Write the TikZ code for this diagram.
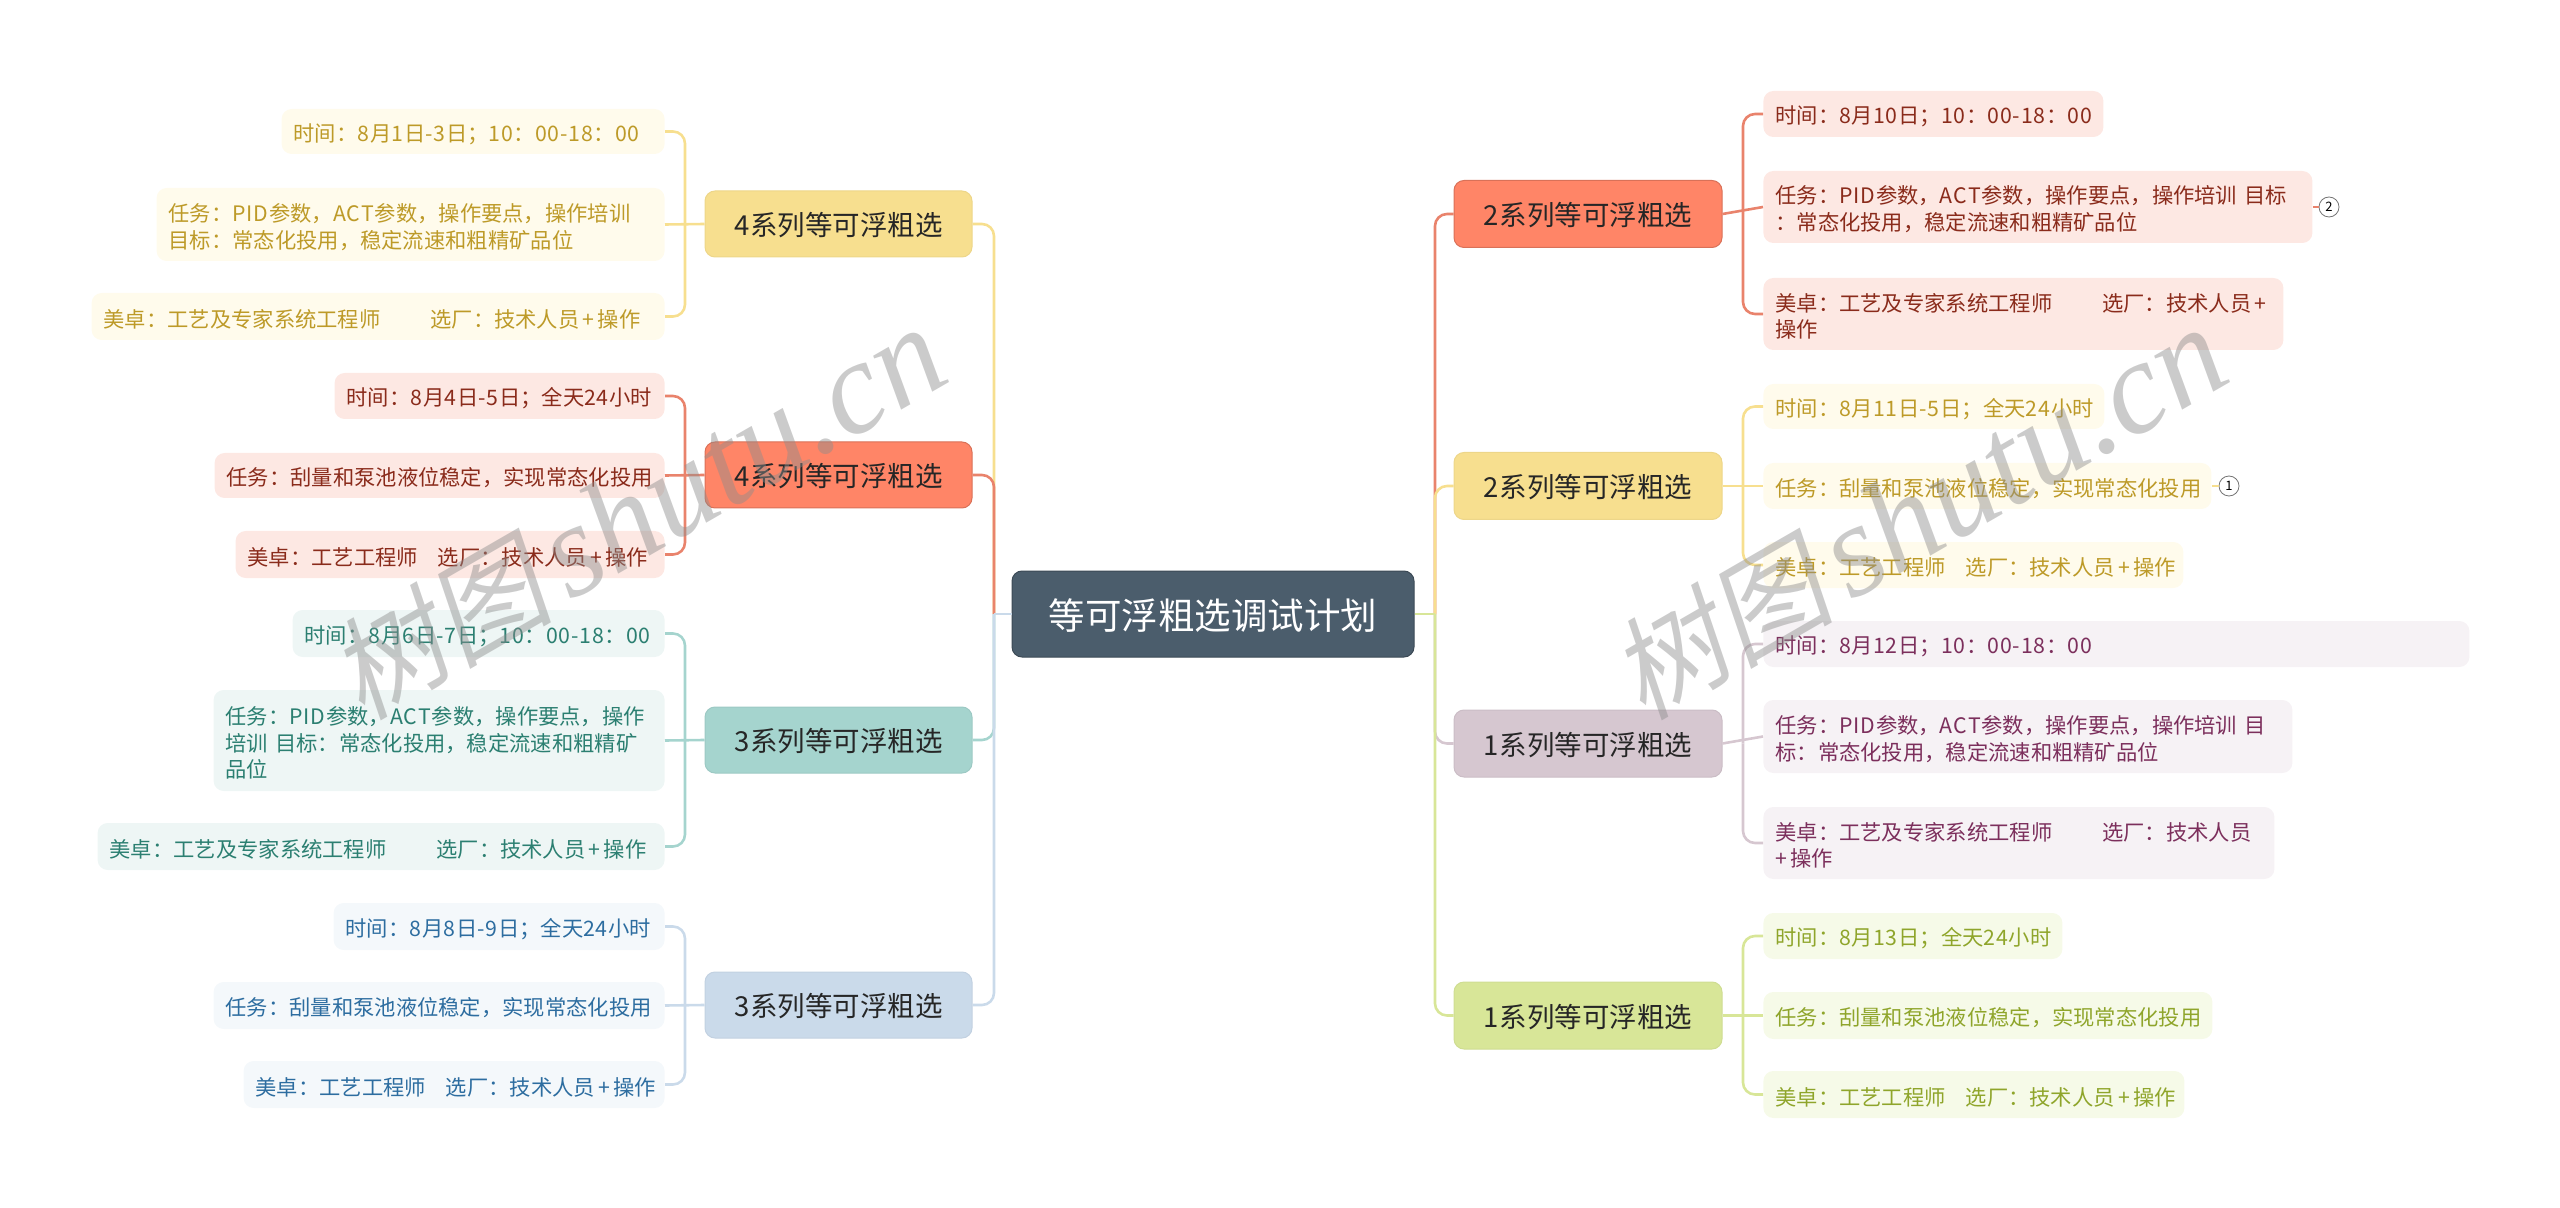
\documentclass[tikz,border=0pt]{standalone}
\usepackage{fontspec}
\setmainfont{Noto Sans CJK SC}
\newfontfamily\markfont[FakeSlant=0.2]{Noto Sans CJK SC}
\newfontfamily\marklatin{Liberation Serif Italic}

% digits and capitals run a little wider than the font gives
\XeTeXinterchartokenstate=1
\newXeTeXintercharclass\latclass
\newXeTeXintercharclass\plusclass
\XeTeXcharclass`\0=\latclass \XeTeXcharclass`\1=\latclass \XeTeXcharclass`\2=\latclass
\XeTeXcharclass`\3=\latclass \XeTeXcharclass`\4=\latclass \XeTeXcharclass`\5=\latclass
\XeTeXcharclass`\6=\latclass \XeTeXcharclass`\7=\latclass \XeTeXcharclass`\8=\latclass
\XeTeXcharclass`\9=\latclass \XeTeXcharclass`\-=\latclass
\XeTeXcharclass`\P=\latclass \XeTeXcharclass`\I=\latclass \XeTeXcharclass`\D=\latclass
\XeTeXcharclass`\A=\latclass \XeTeXcharclass`\C=\latclass \XeTeXcharclass`\T=\latclass
\XeTeXcharclass`\+=\plusclass
\XeTeXinterchartoks\latclass\latclass={\kern0.4pt}
\XeTeXinterchartoks\latclass 0={\kern0.4pt}
\XeTeXinterchartoks 0 \plusclass={\kern1.6pt}
\XeTeXinterchartoks\plusclass 0={\kern1.6pt}

\definecolor{yelNode}{HTML}{F7DF8F}
\definecolor{yelLeaf}{HTML}{FFFBEC}
\definecolor{yelText}{HTML}{BD9A28}
\definecolor{redNode}{HTML}{FF8567}
\definecolor{redLine}{HTML}{E9836C}
\definecolor{redLeaf}{HTML}{FDE8E3}
\definecolor{redText}{HTML}{8A2B1B}
\definecolor{teaNode}{HTML}{A5D4CE}
\definecolor{teaLeaf}{HTML}{EEF6F5}
\definecolor{teaText}{HTML}{2B7F71}
\definecolor{bluNode}{HTML}{CADAEA}
\definecolor{bluLeaf}{HTML}{F4F8FB}
\definecolor{bluText}{HTML}{2D6DA0}
\definecolor{mauNode}{HTML}{D6C7D0}
\definecolor{mauLeaf}{HTML}{F6F2F5}
\definecolor{mauText}{HTML}{7C2F5C}
\definecolor{greNode}{HTML}{D8E698}
\definecolor{greLeaf}{HTML}{F6FAE8}
\definecolor{greText}{HTML}{8FA52B}
\definecolor{rootNode}{HTML}{4B5D6C}

\tikzset{
 leaf/.style={rounded corners=5pt,inner xsep=6pt,inner ysep=0pt,align=left,
   font={\fontsize{10.65}{13.4}\selectfont\hyphenchar\font=-1\relax},execute at begin node={\rule{0pt}{11.4pt}}},
 branch/.style={rounded corners=5pt,inner sep=0pt,text=black!85,line width=0.5pt,
   text height=14.6pt,text depth=3pt,font=\fontsize{13.75}{17}\selectfont},
 yleaf/.style={leaf,fill=yelLeaf,text=yelText},
 rleaf/.style={leaf,fill=redLeaf,text=redText},
 tleaf/.style={leaf,fill=teaLeaf,text=teaText},
 bleaf/.style={leaf,fill=bluLeaf,text=bluText},
 mleaf/.style={leaf,fill=mauLeaf,text=mauText},
 gleaf/.style={leaf,fill=greLeaf,text=greText},
 ybranch/.style={branch,fill=yelNode,draw=yelNode!96!black},
 rbranch/.style={branch,fill=redNode,draw=redNode!85!black},
 tbranch/.style={branch,fill=teaNode,draw=teaNode!95!black},
 bbranch/.style={branch,fill=bluNode,draw=bluNode!96!black},
 mbranch/.style={branch,fill=mauNode,draw=mauNode!95!black},
 gbranch/.style={branch,fill=greNode,draw=greNode!96!black},
 link/.style={line width=1.3pt,rounded corners=6pt},
 yline/.style={link,draw=yelNode},
 rline/.style={link,draw=redLine},
 tline/.style={link,draw=teaNode},
 bline/.style={link,draw=bluNode},
 mline/.style={link,draw=mauNode},
 gline/.style={link,draw=greNode},
 note/.style={circle,draw=black!55,fill=white,line width=0.4pt,inner sep=0pt,
   minimum size=10pt,font=\fontsize{6.5}{7}\selectfont},
 stamp/.style={rotate=30,text=black!45,opacity=0.45,inner sep=0pt}
}

\begin{document}
\begin{tikzpicture}[x=0.5pt,y=-0.5pt]
 \useasboundingbox (0,0) rectangle (2560,1208);
 \node[rounded corners=5pt,fill=rootNode,draw=rootNode!80!black,line width=0.5pt,text=white,
   minimum width=201pt,minimum height=43pt,inner sep=0pt,text height=18.4pt,text depth=3pt,
   font=\fontsize{18.25}{22}\selectfont] at (1213,614) (root) {等可浮粗选调试计划};

 \node[ybranch,minimum width=133.5pt,minimum height=33pt] at (838.5,224) (nA) {4系列等可浮粗选};
 \node[rbranch,minimum width=133.5pt,minimum height=33pt] at (838.5,475) (nB) {4系列等可浮粗选};
 \node[tbranch,minimum width=133.5pt,minimum height=33pt] at (838.5,740) (nC) {3系列等可浮粗选};
 \node[bbranch,minimum width=133.5pt,minimum height=33pt] at (838.5,1005) (nD) {3系列等可浮粗选};
 \node[rbranch,minimum width=134pt,minimum height=33.5pt] at (1588,214) (nE) {2系列等可浮粗选};
 \node[ybranch,minimum width=134pt,minimum height=33.5pt] at (1588,486) (nF) {2系列等可浮粗选};
 \node[mbranch,minimum width=134pt,minimum height=33.5pt] at (1588,743.5) (nG) {1系列等可浮粗选};
 \node[gbranch,minimum width=134pt,minimum height=33.5pt] at (1588,1015.5) (nH) {1系列等可浮粗选};

 \node[yleaf,anchor=east,text width=179.5pt,minimum height=22.5pt] at (665,131.5) (a1) {时间：8月1日-3日；10：00-18：00};
 \node[yleaf,anchor=east,text width=242pt,minimum height=36.5pt] at (665,224.5) (a2) {任务：PID参数，ACT参数，操作要点，操作培训\\目标：常态化投用，稳定流速和粗精矿品位};
 \node[yleaf,anchor=east,text width=274.5pt,minimum height=23.5pt] at (665,316.5) (a3) {美卓：工艺及专家系统工程师\kern25pt 选厂：技术人员+操作};

 \node[rleaf,anchor=east,text width=153pt,minimum height=23pt] at (665,396) (b1) {时间：8月4日-5日；全天24小时};
 \node[rleaf,anchor=east,text width=213pt,minimum height=22.5pt] at (665,475.5) (b2) {任务：刮量和泵池液位稳定，实现常态化投用};
 \node[rleaf,anchor=east,text width=202.5pt,minimum height=23.5pt] at (665,554.5) (b3) {美卓：工艺工程师\kern10pt 选厂：技术人员+操作};

 \node[tleaf,anchor=east,text width=174pt,minimum height=23.5pt] at (665,633.5) (c1) {时间：8月6日-7日；10：00-18：00};
 \node[tleaf,anchor=east,text width=213.5pt,minimum height=50.5pt] at (665,740.5) (c2) {任务：PID参数，ACT参数，操作要点，操作\\培训 目标：常态化投用，稳定流速和粗精矿\\品位};
 \node[tleaf,anchor=east,text width=271.5pt,minimum height=23.5pt] at (665,846.5) (c3) {美卓：工艺及专家系统工程师\kern25pt 选厂：技术人员+操作};

 \node[bleaf,anchor=east,text width=153.5pt,minimum height=23.5pt] at (665,926.5) (d1) {时间：8月8日-9日；全天24小时};
 \node[bleaf,anchor=east,text width=213.5pt,minimum height=23.5pt] at (665,1005.5) (d2) {任务：刮量和泵池液位稳定，实现常态化投用};
 \node[bleaf,anchor=east,text width=198.5pt,minimum height=23.5pt] at (665,1084.5) (d3) {美卓：工艺工程师\kern10pt 选厂：技术人员+操作};

 \node[rleaf,anchor=west,text width=158pt,minimum height=23pt] at (1763,114) (e1) {时间：8月10日；10：00-18：00};
 \node[rleaf,anchor=west,text width=262.5pt,minimum height=36pt] at (1763,207) (e2) {任务：PID参数，ACT参数，操作要点，操作培训 目标\\：常态化投用，稳定流速和粗精矿品位};
 \node[rleaf,anchor=west,text width=248pt,minimum height=36pt] at (1763,314) (e3) {美卓：工艺及专家系统工程师\kern25pt 选厂：技术人员+\\操作};

 \node[yleaf,anchor=west,text width=158.5pt,minimum height=22.5pt] at (1763,406.5) (f1) {时间：8月11日-5日；全天24小时};
 \node[yleaf,anchor=west,text width=212pt,minimum height=23pt] at (1763,486) (f2) {任务：刮量和泵池液位稳定，实现常态化投用};
 \node[yleaf,anchor=west,text width=198pt,minimum height=23pt] at (1763,565) (f3) {美卓：工艺工程师\kern10pt 选厂：技术人员+操作};

 \node[mleaf,anchor=west,text width=341pt,minimum height=23pt] at (1763,644) (g1) {时间：8月12日；10：00-18：00};
 \node[mleaf,anchor=west,text width=252.5pt,minimum height=36.5pt] at (1763,736.5) (g2) {任务：PID参数，ACT参数，操作要点，操作培训 目\\标：常态化投用，稳定流速和粗精矿品位};
 \node[mleaf,anchor=west,text width=243.5pt,minimum height=36pt] at (1763,843) (g3) {美卓：工艺及专家系统工程师\kern25pt 选厂：技术人员\\+操作};

 \node[gleaf,anchor=west,text width=137.5pt,minimum height=23pt] at (1763,936) (h1) {时间：8月13日；全天24小时};
 \node[gleaf,anchor=west,text width=212.5pt,minimum height=23.5pt] at (1763,1015.5) (h2) {任务：刮量和泵池液位稳定，实现常态化投用};
 \node[gleaf,anchor=west,text width=198.5pt,minimum height=23.5pt] at (1763,1094.5) (h3) {美卓：工艺工程师\kern10pt 选厂：技术人员+操作};

 \node[note] at (2329,207) (n2) {2};
 \node[note] at (2229,486) (n1) {1};

 \coordinate (sL) at (994,614);
 \coordinate (sR) at (1435,614);
 \coordinate (sA) at (685,224);
 \coordinate (sB) at (685,475);
 \coordinate (sC) at (685,740);
 \coordinate (sD) at (685,1005);
 \coordinate (sE) at (1743,214);
 \coordinate (sF) at (1743,486);
 \coordinate (sG) at (1743,743.5);
 \coordinate (sH) at (1743,1015.5);

 \draw[yline] (sL) |- (nA.east);
 \draw[rline] (sL) |- (nB.east);
 \draw[tline] (sL) |- (nC.east);
 \draw[bline] (sL) |- (nD.east);
 \draw[bline] (root.west) -- (sL);
 \draw[rline] (sR) |- (nE.west);
 \draw[yline] (sR) |- (nF.west);
 \draw[mline] (sR) |- (nG.west);
 \draw[gline] (sR) |- (nH.west);
 \draw[gline] (root.east) -- (sR);

 \draw[yline] (sA) |- (a1.east);
 \draw[yline] (nA.west) -- (a2.east);
 \draw[yline] (sA) |- (a3.east);
 \draw[rline] (sB) |- (b1.east);
 \draw[rline] (nB.west) -- (b2.east);
 \draw[rline] (sB) |- (b3.east);
 \draw[tline] (sC) |- (c1.east);
 \draw[tline] (nC.west) -- (c2.east);
 \draw[tline] (sC) |- (c3.east);
 \draw[bline] (sD) |- (d1.east);
 \draw[bline] (nD.west) -- (d2.east);
 \draw[bline] (sD) |- (d3.east);

 \draw[rline] (sE) |- (e1.west);
 \draw[rline] (nE.east) -- (e2.west);
 \draw[rline] (sE) |- (e3.west);
 \draw[yline] (sF) |- (f1.west);
 \draw[yline] (nF.east) -- (f2.west);
 \draw[yline] (sF) |- (f3.west);
 \draw[mline] (sG) |- (g1.west);
 \draw[mline] (nG.east) -- (g2.west);
 \draw[mline] (sG) |- (g3.west);
 \draw[gline] (sH) |- (h1.west);
 \draw[gline] (nH.east) -- (h2.west);
 \draw[gline] (sH) |- (h3.west);
 \draw[rline] (e2.east) -- (n2);
 \draw[yline] (f2.east) -- (n1);

 \node[stamp] at (637,514) (wmL) {\fontsize{56}{60}\markfont 树图\hspace{8pt}\fontsize{66}{70}\marklatin shutu.cn};
 \node[stamp] at (1918,514) (wmR) {\fontsize{56}{60}\markfont 树图\hspace{8pt}\fontsize{66}{70}\marklatin shutu.cn};
\end{tikzpicture}
\end{document}
